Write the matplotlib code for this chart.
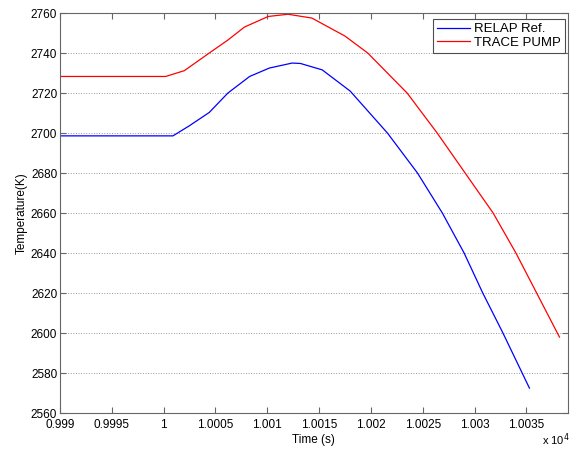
import matplotlib
matplotlib.use("Agg")
import matplotlib.pyplot as plt

plt.rcParams['font.family'] = ['Liberation Sans', 'DejaVu Sans']

# time in seconds, temperature in K
relap_time = [9990, 10000.9, 10002.5, 10004.4, 10006.2, 10008.3, 10010.2, 10012.4,
              10013.2, 10015.3, 10018.0, 10021.6, 10024.5, 10026.9, 10029.0,
              10030.8, 10032.7, 10035.3]
relap_temp = [2698.6, 2698.6, 2703.7, 2710.3, 2720.0, 2728.3, 2732.5, 2735.0,
              2734.8, 2731.6, 2721.0, 2700.0, 2680.0, 2660.0, 2640.0,
              2620.0, 2600.5, 2572.5]

trace_time = [9990, 10000.2, 10002.0, 10004.4, 10006.2, 10007.8, 10010.1, 10012.0,
              10014.3, 10017.5, 10019.7, 10023.5, 10026.4, 10029.1, 10031.8,
              10034.0, 10036.0, 10038.2]
trace_temp = [2728.3, 2728.3, 2731.2, 2740.0, 2746.5, 2753.0, 2758.3, 2759.4,
              2757.5, 2748.5, 2740.0, 2720.0, 2700.0, 2680.0, 2660.0,
              2640.0, 2620.0, 2598.0]

x_ticks = [9990, 9995, 10000, 10005, 10010, 10015, 10020, 10025, 10030, 10035]
x_labels = ['0.999', '0.9995', '1', '1.0005', '1.001', '1.0015', '1.002',
            '1.0025', '1.003', '1.0035']
y_ticks = list(range(2560, 2761, 20))

fig = plt.figure(figsize=(5.77, 4.5), dpi=100)
ax = fig.add_axes([0.104, 0.082, 0.88, 0.889])

ax.plot(relap_time, relap_temp, color='#0000ff', linewidth=0.9, label='RELAP Ref.')
ax.plot(trace_time, trace_temp, color='#ff0000', linewidth=0.9, label='TRACE PUMP')

ax.set_xlim(9990, 10039)
ax.set_ylim(2560, 2760)
ax.set_xticks(x_ticks)
ax.set_xticklabels(x_labels)
ax.set_yticks(y_ticks)
ax.tick_params(direction='in', top=True, right=True, labelsize=8.5, length=4,
               color='0.4', pad=2)
ax.tick_params(axis='x', pad=4.5)
for s in ax.spines.values():
    s.set_color('0.4')
    s.set_linewidth(0.8)
ax.yaxis.grid(True, linestyle=':', color='0.6', linewidth=0.7)

ax.set_xlabel('Time (s)', fontsize=8.5, labelpad=2)
ax.set_ylabel('Temperature(K)', fontsize=8.5, labelpad=2)
fig.text(0.94, 0.012, 'x 10$^4$', fontsize=8)

leg = ax.legend(loc='upper right', bbox_to_anchor=(0.994, 0.985), borderaxespad=0,
                fontsize=9.5, fancybox=False, framealpha=1, edgecolor='0.3',
                handlelength=2.5, handletextpad=0.3, borderpad=0.3,
                labelspacing=0.1)
leg.get_frame().set_linewidth(0.8)

fig.savefig('out.png', dpi=100)
